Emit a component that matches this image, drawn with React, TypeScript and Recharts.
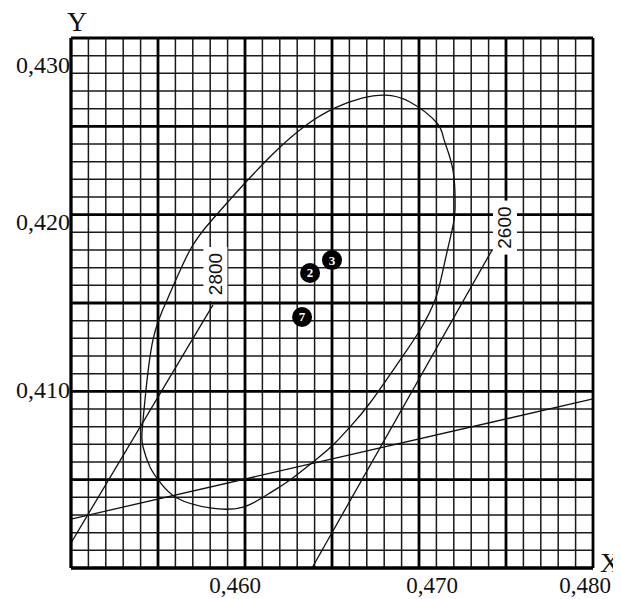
import React from 'react';
import { ComposedChart, Line, Scatter, XAxis, YAxis, CartesianGrid } from 'recharts';

// Axis ranges and ticks
const xDomain: [number, number] = [0.45, 0.48];
const yDomain: [number, number] = [0.4, 0.43];
const xMinorTicks = Array.from({ length: 31 }, (_, i) => Number((0.45 + i * 0.001).toFixed(3)));
const yMinorTicks = Array.from({ length: 31 }, (_, i) => Number((0.4 + i * 0.001).toFixed(3)));
const xMajorTicks = [0.45, 0.455, 0.46, 0.465, 0.47, 0.475, 0.48];
const yMajorTicks = [0.4, 0.405, 0.41, 0.415, 0.42, 0.425, 0.43];
const xLabeled = [0.46, 0.47, 0.48];
const yLabeled = [0.41, 0.42, 0.43];

// Ellipse
const ellipseX = [
  0.45552, 0.45684, 0.4581, 0.46, 0.46172, 0.46345, 0.46517, 0.46672, 0.46805, 0.46948,
  0.47103, 0.47144, 0.47195, 0.47207, 0.4719, 0.47138, 0.47092, 0.47006, 0.46891, 0.46718,
  0.46603, 0.46506, 0.46391, 0.46259, 0.46144, 0.45989, 0.45799, 0.45609, 0.45511, 0.45454,
  0.45414, 0.45408, 0.45425, 0.45471, 0.45552,
];
const ellipseY = [
  0.41517, 0.418, 0.4197, 0.42179, 0.42355, 0.42502, 0.42604, 0.4266, 0.42677, 0.42638,
  0.42519, 0.42423, 0.42253, 0.42026, 0.41913, 0.41687, 0.41517, 0.41347, 0.41177, 0.40934,
  0.40798, 0.40696, 0.406, 0.40498, 0.40425, 0.40345, 0.4034, 0.40396, 0.40487, 0.40572,
  0.40685, 0.40764, 0.40951, 0.41291, 0.41517,
];

// Straight lines
const lineAX = [0.45, 0.48];
const lineAY = [0.40277, 0.40957];
const iso2800X = [0.45, 0.45816];
const iso2800Y = [0.40142, 0.41489];
const iso2600X = [0.46385, 0.4742];
const iso2600Y = [0.4, 0.418];

// Isotherm labels
const isoLabels = ['2800', '2600'];
const isoLabelX = [0.4583, 0.47494];
const isoLabelY = [0.41664, 0.41927];

// Measured points
const pointLabels = ['7', '2', '3'];
const pointX = [0.46328, 0.46374, 0.465];
const pointY = [0.41421, 0.4167, 0.41743];

const zip = (xs: number[], ys: number[]) => xs.map((x, i) => ({ x, y: ys[i] }));
const ellipseData = zip(ellipseX, ellipseY);
const lineAData = zip(lineAX, lineAY);
const iso2800Data = zip(iso2800X, iso2800Y);
const iso2600Data = zip(iso2600X, iso2600Y);
const isoLabelData = isoLabels.map((label, i) => ({ x: isoLabelX[i], y: isoLabelY[i], label }));
const pointData = pointLabels.map((label, i) => ({ x: pointX[i], y: pointY[i], label }));

const fmt = (v: number) => v.toFixed(3).replace('.', ',');
const SERIF = '"Liberation Serif", "Times New Roman", serif';
const SANS = '"Liberation Sans", Arial, sans-serif';

const xShift: Record<string, number> = { '0.46': -10, '0.47': 13, '0.48': -8 };
const yShift: Record<string, number> = { '0.41': 7, '0.42': 15, '0.43': 35 };

const XTick = (props: any) => {
  const { x, y, payload } = props;
  const v = payload.value as number;
  if (!xLabeled.some((t) => Math.abs(t - v) < 1e-6)) return <g />;
  return (
    <text x={x + (xShift[String(v)] || 0)} y={y + 23} textAnchor="middle" fontFamily={SERIF} fontSize={23} fill="#111">
      {fmt(v)}
    </text>
  );
};

const YTick = (props: any) => {
  const { x, y, payload } = props;
  const v = payload.value as number;
  if (!yLabeled.some((t) => Math.abs(t - v) < 1e-6)) return <g />;
  return (
    <text x={x + 1} y={y + (yShift[String(v)] || 0)} textAnchor="end" fontFamily={SERIF} fontSize={24} fill="#111">
      {fmt(v)}
    </text>
  );
};

const PointShape = (props: any) => {
  const { cx, cy, payload } = props;
  return (
    <g>
      <circle cx={cx} cy={cy} r={10} fill="#000" />
      <text x={cx} y={cy + 4.5} textAnchor="middle" fontFamily={SERIF} fontWeight="bold" fontSize={13} fill="#fff">
        {payload.label}
      </text>
    </g>
  );
};

const IsoLabelShape = (props: any) => {
  const { cx, cy, payload } = props;
  return (
    <g>
      <rect x={cx - 12} y={cy - 27} width={24} height={54} fill="#fff" />
      <text
        x={cx}
        y={cy}
        transform={`rotate(-90 ${cx} ${cy})`}
        textAnchor="middle"
        dominantBaseline="central"
        fontFamily={SANS}
        fontSize={19}
        fill="#111"
      >
        {payload.label}
      </text>
    </g>
  );
};

export default function App() {
  return (
    <div style={{ position: 'relative', width: 613, height: 591 }}>
      <ComposedChart width={613} height={591} margin={{ top: 30, right: 28, bottom: 0, left: 0 }}>
        <CartesianGrid xAxisId="mx" yAxisId="my" stroke="#1a1a1a" strokeWidth={1.5} />
        <CartesianGrid xAxisId="x" yAxisId="y" stroke="#000" strokeWidth={2.8} />
        <XAxis xAxisId="mx" orientation="top" type="number" dataKey="x" domain={xDomain} ticks={xMinorTicks} interval={0} allowDataOverflow hide height={0} />
        <YAxis yAxisId="my" orientation="right" type="number" dataKey="y" domain={yDomain} ticks={yMinorTicks} interval={0} allowDataOverflow hide width={0} />
        <XAxis
          xAxisId="x"
          type="number"
          dataKey="x"
          domain={xDomain}
          ticks={xMajorTicks}
          allowDataOverflow
          interval={0}
          height={31}
          tickSize={0}
          tickLine={false}
          tick={<XTick />}
          axisLine={{ stroke: '#000', strokeWidth: 2.8 }}
        />
        <YAxis
          yAxisId="y"
          type="number"
          dataKey="y"
          domain={yDomain}
          ticks={yMajorTicks}
          allowDataOverflow
          interval={0}
          width={63}
          tickSize={0}
          tickLine={false}
          tick={<YTick />}
          axisLine={{ stroke: '#000', strokeWidth: 2.8 }}
        />
        <Line xAxisId="x" yAxisId="y" data={ellipseData} dataKey="y" type="natural" dot={false} stroke="#111" strokeWidth={1.3} isAnimationActive={false} />
        <Line xAxisId="x" yAxisId="y" data={lineAData} dataKey="y" type="linear" dot={false} stroke="#111" strokeWidth={1.3} isAnimationActive={false} />
        <Line xAxisId="x" yAxisId="y" data={iso2800Data} dataKey="y" type="linear" dot={false} stroke="#111" strokeWidth={1.3} isAnimationActive={false} />
        <Line xAxisId="x" yAxisId="y" data={iso2600Data} dataKey="y" type="linear" dot={false} stroke="#111" strokeWidth={1.3} isAnimationActive={false} />
        <Scatter xAxisId="x" yAxisId="y" data={isoLabelData} dataKey="y" shape={<IsoLabelShape />} isAnimationActive={false} />
        <Scatter xAxisId="x" yAxisId="y" data={pointData} dataKey="y" shape={<PointShape />} isAnimationActive={false} />
      </ComposedChart>
      <div style={{ position: 'absolute', left: 59, top: -2, fontFamily: SERIF, fontSize: 28, lineHeight: '32px', color: '#111' }}>Y</div>
      <div style={{ position: 'absolute', left: 592, top: 539, fontFamily: SERIF, fontSize: 28, lineHeight: '32px', color: '#111' }}>X</div>
    </div>
  );
}
